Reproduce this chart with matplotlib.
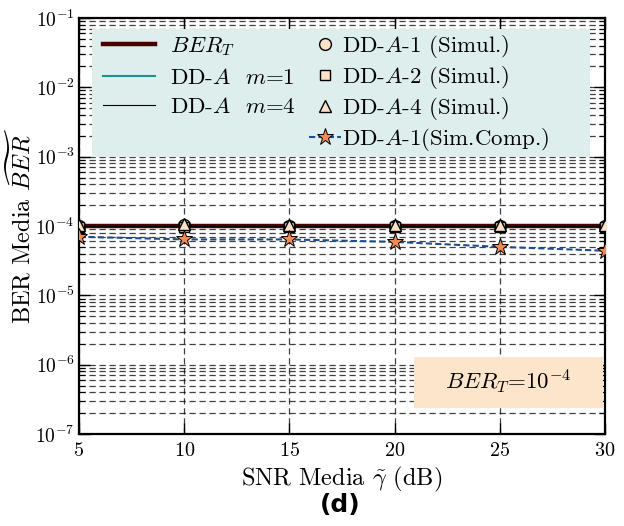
import matplotlib
matplotlib.use("Agg")
import matplotlib.pyplot as plt
from matplotlib.patches import Rectangle
import numpy as np

plt.rcParams['font.family'] = 'serif'
plt.rcParams['font.serif'] = ['cmr10', 'DejaVu Serif']
plt.rcParams['mathtext.fontset'] = 'cm'
plt.rcParams['axes.unicode_minus'] = False
plt.rcParams['axes.formatter.use_mathtext'] = True

# Data
snr = [5, 10, 15, 20, 25, 30]
ber_target = [1e-4, 1e-4, 1e-4, 1e-4, 1e-4, 1e-4]
dd_m1 = [1e-4, 1e-4, 1e-4, 1e-4, 1e-4, 1e-4]
dd_m4 = [1e-4, 1e-4, 1e-4, 1e-4, 1e-4, 1e-4]
sim_1 = [1.0e-4, 1.02e-4, 1.0e-4, 1.0e-4, 1.0e-4, 1.0e-4]
sim_2 = [0.98e-4, 0.98e-4, 0.98e-4, 0.98e-4, 0.98e-4, 0.98e-4]
sim_4 = [1.03e-4, 1.06e-4, 1.03e-4, 1.03e-4, 1.03e-4, 1.04e-4]
sim_comp = [7.0e-5, 6.4e-5, 6.4e-5, 5.9e-5, 5.0e-5, 4.4e-5]
xticks = [5, 10, 15, 20, 25, 30]

fig = plt.figure(figsize=(6.24, 5.26), dpi=100)
ax = fig.add_axes([0.1266, 0.1749, 0.843, 0.7909])

ax.set_yscale('log')
ax.set_xlim(5, 30)
ax.set_ylim(1e-7, 1e-1)

ax.grid(True, which='both', axis='y', ls=(0, (5, 3)), color='k', alpha=0.75, lw=0.9, zorder=0)
ax.grid(True, which='major', axis='x', ls=(0, (5, 3)), color='k', alpha=0.75, lw=0.9, zorder=0)
ax.set_axisbelow(True)

peach = '#fde1c8'
l1, = ax.plot(snr, ber_target, color='#4a0000', lw=3.2, zorder=3)
l2, = ax.plot(snr, dd_m1, color='#1a9090', lw=1.5, zorder=2)
l3, = ax.plot(snr, dd_m4, color='k', lw=0.8, zorder=4)
m1, = ax.plot(snr, sim_1, ls='none', marker='o', ms=8.5, mfc=peach, mec='k', mew=1.0, zorder=5)
m2, = ax.plot(snr, sim_2, ls='none', marker='s', ms=7, mfc=peach, mec='k', mew=1.0, zorder=6)
m3, = ax.plot(snr, sim_4, ls='none', marker='^', ms=9, mfc=peach, mec='k', mew=1.0, zorder=7)
m4, = ax.plot(snr, sim_comp, ls=(0, (3, 1.5)), color='#1f4e8c', lw=1.5, marker='*', ms=12.5,
              mfc='#f28a55', mec='k', mew=0.7, zorder=8)

ax.set_xticks(xticks)
ax.tick_params(axis='both', which='both', direction='in', top=True, right=True, labelsize=14)
ax.tick_params(axis='both', which='major', length=8, width=1)
ax.tick_params(axis='y', which='minor', length=4, width=0.8)
ax.tick_params(axis='x', which='major', pad=6, labelsize=14.5)
ax.tick_params(axis='y', which='major', pad=3)
for s in ax.spines.values():
    s.set_linewidth(1.6)

ax.set_xlabel(r'SNR Media $\tilde{\gamma}$ (dB)', fontsize=17.5, labelpad=3)
ax.set_ylabel(r'BER Media $\widetilde{BER}$', fontsize=17.5)
ax.yaxis.set_label_coords(-0.083, 0.5)

# legend background
ax.add_patch(Rectangle((0.025, 0.666), 0.946, 0.308, transform=ax.transAxes,
                       facecolor='#ddeeed', edgecolor='none', zorder=9))

leg1 = ax.legend([l1, l2, l3], [r'$BER_T$', r'DD-$A$  $m$=1', r'DD-$A$  $m$=4'],
                 loc='upper left', bbox_to_anchor=(0.0456, 0.958), frameon=False,
                 fontsize=16.5, borderpad=0, borderaxespad=0, labelspacing=0.4,
                 handlelength=2.27, handletextpad=0.65)
leg1.set_zorder(10)
ax.add_artist(leg1)
leg2 = ax.legend([m1, m2, m3, m4],
                 [r'DD-$A$-1 (Simul.)', r'DD-$A$-2 (Simul.)', r'DD-$A$-4 (Simul.)', r'DD-$A$-1(Sim.Comp.)'],
                 loc='upper left', bbox_to_anchor=(0.437, 0.965), frameon=False,
                 fontsize=16.5, borderpad=0, borderaxespad=0, labelspacing=0.18,
                 handlelength=1.4, handletextpad=0.06)
leg2.set_zorder(10)

ax.add_patch(Rectangle((0.637, 0.0625), 0.359, 0.1225, transform=ax.transAxes,
                       facecolor='#fde5cc', edgecolor='none', zorder=9))
ax.text(0.816, 0.125, r'$BER_T$=10$^{-4}$', transform=ax.transAxes, fontsize=16.5,
        ha='center', va='center', zorder=11)

fig.text(0.545, 0.04, '(d)', fontsize=18, fontweight='bold', family='DejaVu Sans',
         ha='center', va='center')

fig.savefig('out.png', dpi=100)
